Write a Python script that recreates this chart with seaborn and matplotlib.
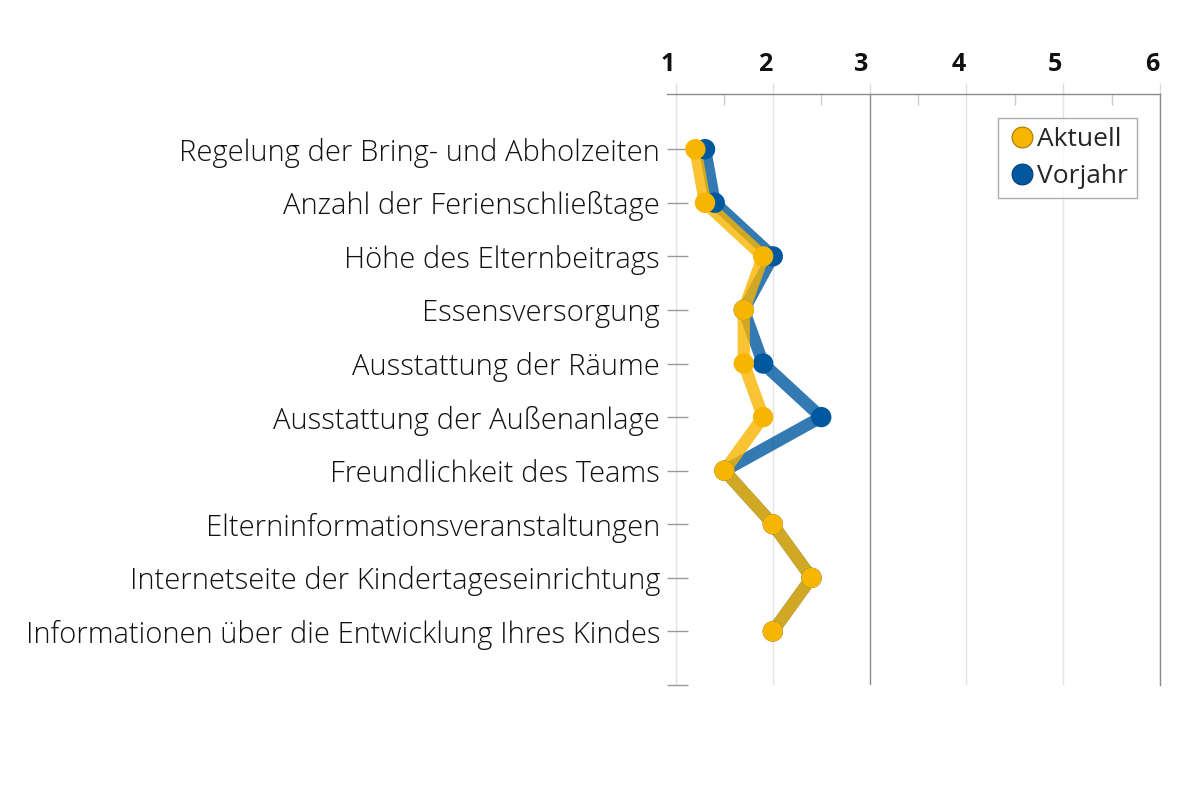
import numpy as np
import pandas as pd
import seaborn as sns
import matplotlib
matplotlib.use("Agg")
import matplotlib.pyplot as plt
from matplotlib.lines import Line2D
from matplotlib.transforms import ScaledTranslation
from matplotlib.ticker import MultipleLocator

categories = [
    "Regelung der Bring- und Abholzeiten",
    "Anzahl der Ferienschließtage",
    "Höhe des Elternbeitrags",
    "Essensversorgung",
    "Ausstattung der Räume",
    "Ausstattung der Außenanlage",
    "Freundlichkeit des Teams",
    "Elterninformationsveranstaltungen",
    "Internetseite der Kindertageseinrichtung",
    "Informationen über die Entwicklung Ihres Kindes",
]
aktuell = [1.2, 1.3, 1.9, 1.7, 1.7, 1.9, 1.5, 2.0, 2.4, 2.0]
vorjahr = [1.3, 1.4, 2.0, 1.7, 1.9, 2.5, 1.5, 2.0, 2.4, 2.0]
x_ticks = [1, 2, 3, 4, 5, 6]
series_names = ["Vorjahr", "Aktuell"]
colors = {"Aktuell": "#F8B500", "Vorjahr": "#00589F"}
edge_colors = {"Aktuell": "#A87800", "Vorjahr": "#003E72"}

pos = np.arange(len(categories))
df = pd.concat([
    pd.DataFrame({"Kategorie": categories, "pos": pos, "Wert": vorjahr, "Serie": "Vorjahr"}),
    pd.DataFrame({"Kategorie": categories, "pos": pos, "Wert": aktuell, "Serie": "Aktuell"}),
], ignore_index=True)

sns.set_theme(style="white")
plt.rcParams["font.family"] = ["Open Sans", "DejaVu Sans"]

fig = plt.figure(figsize=(12, 8), dpi=100)
ax = fig.add_axes([667 / 1200, 1 - 685 / 800, 493 / 1200, 591 / 800])

sns.lineplot(data=df, x="Wert", y="pos", hue="Serie", hue_order=series_names,
             palette=colors, sort=False, orient="y", estimator=None,
             linewidth=8.8, alpha=0.8, legend=False, ax=ax, zorder=3,
             solid_capstyle="butt", solid_joinstyle="miter")
sns.scatterplot(data=df, x="Wert", y="pos", hue="Serie", hue_order=series_names,
                palette=colors, s=215, linewidth=0, legend=False, ax=ax, zorder=5)

ax.set_xlim(0.907, 6)
ax.set_ylim(10, -1.03)
ax.set_xlabel("")
ax.set_ylabel("")

# x axis on top
ax.xaxis.tick_top()
ax.set_xticks(x_ticks)
ax.set_xticklabels([str(t) for t in x_ticks], fontsize=18, fontweight="bold", color="#111111")
ax.xaxis.set_minor_locator(MultipleLocator(0.5))
ax.tick_params(axis="x", which="major", direction="out", length=8, width=1,
               color="#dddddd", pad=4, top=True, bottom=False)
ax.tick_params(axis="x", which="minor", direction="in", length=8, width=1,
               color="#cccccc", top=True, bottom=False)
off = ScaledTranslation(-8 / 100, 0, fig.dpi_scale_trans)
for lab in ax.get_xticklabels():
    lab.set_transform(lab.get_transform() + off)

# y axis labels
ax.set_yticks(list(pos) + [10])
ax.set_yticklabels(categories + [""], fontsize=21, fontweight="light", color="#111111")
ax.tick_params(axis="y", direction="in", length=15, width=1, color="#999999",
               pad=5, left=True)

# grid
ax.grid(axis="x", which="major", color="#e3e3e3", linewidth=1)
ax.grid(axis="y", visible=False)
for gl, t in zip(ax.get_xgridlines(), x_ticks):
    if t == 3:
        gl.set_color("#8a8a8a")
        gl.set_zorder(1)

for side in ["left", "bottom"]:
    ax.spines[side].set_visible(False)
ax.spines["top"].set_color("#8a8a8a")
ax.spines["top"].set_linewidth(1)
ax.spines["right"].set_color("#8a8a8a")
ax.spines["right"].set_linewidth(1)

handles = [
    Line2D([0], [0], marker="o", linestyle="none", markersize=15,
           markerfacecolor=colors[n], markeredgecolor=edge_colors[n], markeredgewidth=0.8, label=n)
    for n in ["Aktuell", "Vorjahr"]
]
leg = ax.legend(handles=handles, loc="upper right", bbox_to_anchor=(0.953, 0.96),
                borderaxespad=0, frameon=True, fancybox=False, fontsize=19,
                handletextpad=0.0, handlelength=1.1, labelspacing=0.45,
                borderpad=0.35, edgecolor="#999999")
leg.get_frame().set_linewidth(1)

fig.savefig("out.png", dpi=100, facecolor="white")
